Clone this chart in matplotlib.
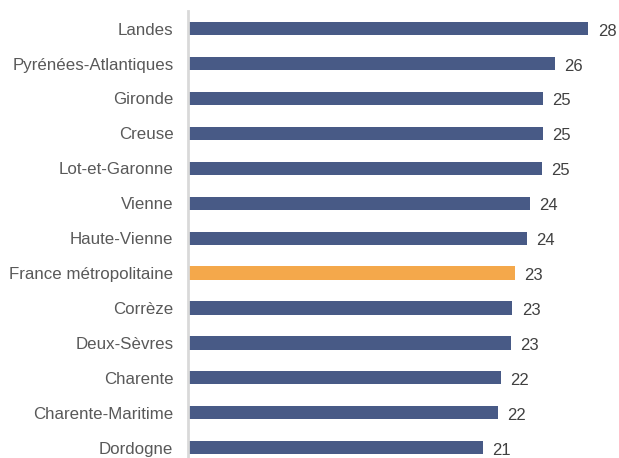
import matplotlib
matplotlib.use("Agg")
import matplotlib.pyplot as plt

departements = ["Landes", "Pyrénées-Atlantiques", "Gironde", "Creuse", "Lot-et-Garonne",
                "Vienne", "Haute-Vienne", "France métropolitaine", "Corrèze", "Deux-Sèvres",
                "Charente", "Charente-Maritime", "Dordogne"]
valeurs = [28.2, 25.85, 25.0, 25.0, 24.95, 24.05, 23.85, 23.05, 22.85, 22.75, 22.05, 21.8, 20.8]
etiquettes = ["28", "26", "25", "25", "25", "24", "24", "23", "23", "23", "22", "22", "21"]

BLEU = "#485a86"
ORANGE = "#f4a84b"

W, H = 619, 458
fig = plt.figure(figsize=(W / 100, H / 100), dpi=100)
# axes: gauche a 188 px, haut a 11 px, coupe en bas
ax = fig.add_axes([188 / W, 0, (W - 188) / W, (H - 11.2) / H])

couleurs = [ORANGE if d == "France métropolitaine" else BLEU for d in departements]
y = list(range(len(departements)))
ax.barh(y, valeurs, height=0.38, color=couleurs, zorder=2)

for yi, v, lab in zip(y, valeurs, etiquettes):
    ax.text(v + 0.65, yi + 0.07, lab, va="center", ha="left", fontsize=12,
            color="#404040", family="Liberation Sans")

ax.set_xlim(0, (W - 188) / 14.2)
ax.set_ylim(12.295, -0.5)
ax.set_yticks(y)
ax.set_yticklabels(departements, fontsize=12.2, color="#595959", family="Liberation Sans")
ax.tick_params(axis="y", length=0, pad=10.5)
ax.set_xticks([])

for s in ["top", "right", "bottom"]:
    ax.spines[s].set_visible(False)
ax.spines["left"].set_color("#d9d9d9")
ax.spines["left"].set_linewidth(2)

fig.savefig("out.png", dpi=100)
